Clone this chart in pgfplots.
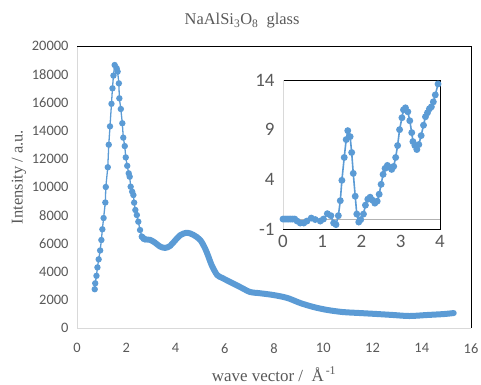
\documentclass[border=0pt]{standalone}
\usepackage{pgfplots}
\pgfplotsset{compat=1.18}
\usepackage{fontspec}
\setmainfont{Liberation Serif}
\newfontfamily\tickfont{Carlito}
\definecolor{serblue}{HTML}{5B9BD5}
\definecolor{txtgray}{HTML}{595959}
\definecolor{axgray}{HTML}{D9D9D9}
\begin{document}
\begin{tikzpicture}
\useasboundingbox (0,0) rectangle (481bp,385bp);
\begin{axis}[
  at={(77bp,57bp)}, anchor=south west, scale only axis,
  width=394bp, height=282bp,
  xmin=0, xmax=16, ymin=0, ymax=20000,
  xtick={0,2,...,16}, ytick={0,2000,...,20000},
  scaled y ticks=false,
  /pgf/number format/assume math mode=true,
  /pgf/number format/1000 sep={},
  tick label style={font=\tickfont\fontsize{14.5}{16}\selectfont, text=txtgray},
  xticklabel style={yshift=-12bp},
  yticklabel style={xshift=-5bp},
  major tick length=0pt,
  axis line style={draw=none},
  clip=false,
  title={\fontsize{16.5}{18}\selectfont NaAlSi\textsubscript{3}O\textsubscript{8}\ \ glass},
  title style={at={(axis description cs:0.419,1.068)}, anchor=center, text=txtgray},
  xlabel={\fontsize{17}{18}\selectfont wave vector /\ \ Å\textsuperscript{\,-1}},
  xlabel style={at={(axis description cs:0.5,-0.164)}, anchor=center, text=txtgray},
  ylabel={\fontsize{16.5}{18}\selectfont Intensity / a.u.},
  ylabel style={at={(axis description cs:-0.147,0.535)}, anchor=center, text=txtgray},
]
\draw[axgray, line width=1bp] (rel axis cs:0,1) -- (rel axis cs:0,0) -- (rel axis cs:1,0);
\draw[black, line width=0.8bp] (rel axis cs:0,1) -- (rel axis cs:1,1) -- (rel axis cs:1,0);
\addplot[serblue, line width=1.3bp, mark=*, mark size=2.5bp, mark options={fill=serblue, draw=serblue}] coordinates {
(0.72,2750) (0.74,3170) (0.79,3700) (0.83,4300) (0.88,4870) (0.94,5500)
(0.99,6240) (1.03,7000) (1.08,7800) (1.15,8900) (1.17,10000) (1.25,11400)
(1.29,13000) (1.34,14300) (1.40,15900) (1.44,17000) (1.48,17900) (1.53,18650)
(1.61,18420) (1.65,18180) (1.70,17350) (1.72,16290) (1.78,15530) (1.84,14520)
(1.88,13500) (1.94,12900) (1.98,12100) (2.04,11500) (2.10,10970) (2.14,10730)
(2.18,10020) (2.24,9670) (2.29,9430) (2.32,8890) (2.37,8370) (2.43,8010)
(2.49,7540) (2.56,6950) (2.63,6480) (2.70,6330) (2.76,6290)
};
\addplot[serblue, line width=6bp, line cap=round, line join=round, smooth] coordinates {
(2.64,6480) (2.76,6290) (2.97,6250) (3.17,6050) (3.37,5780) (3.58,5680)
(3.78,5820) (3.98,6200) (4.19,6580) (4.46,6760) (4.73,6600) (5.00,6250)
(5.20,5650) (5.34,5050) (5.47,4450) (5.69,3760) (5.90,3550) (6.22,3260)
(6.63,2900) (7.03,2550) (7.36,2480) (7.97,2340) (8.54,2130) (9.07,1770)
(9.60,1490) (10.16,1280) (10.80,1130) (11.50,1060) (12.20,990) (12.85,920)
(13.50,850) (14.20,920) (14.90,990) (15.30,1060)
};
\end{axis}
\begin{axis}[
  at={(283bp,156bp)}, anchor=south west, scale only axis,
  width=157bp, height=149bp,
  xmin=0, xmax=4, ymin=-1, ymax=14,
  xtick={0,1,2,3,4}, ytick={-1,4,9,14}, yticklabels={-1,4,9,14},
  /pgf/number format/assume math mode=true,
  tick label style={font=\tickfont\fontsize{19}{21}\selectfont, text=txtgray},
  xticklabel style={yshift=-3bp},
  yticklabel style={xshift=-5bp},
  major tick length=0pt,
  axis line style={draw=none},
  axis background/.style={fill=white},
  clip=false,
]
\draw[black, line width=0.9bp] (rel axis cs:0,0) -- (rel axis cs:1,0) -- (rel axis cs:1,1) -- (rel axis cs:0,1);
\draw[axgray, line width=1bp] (rel axis cs:0,0) -- (rel axis cs:0,1);
\draw[gray!60, line width=0.9bp] (axis cs:0,0) -- (axis cs:4,0);
\addplot[serblue, line width=1.6bp, mark=*, mark size=2.6bp, mark options={fill=serblue, draw=serblue}] coordinates {
(0.00,0.0) (0.05,0.0) (0.10,0.0) (0.15,0.0) (0.20,0.0) (0.25,0.0) (0.30,0.0)
(0.36,-0.2) (0.44,-0.4) (0.53,-0.4) (0.61,-0.2) (0.72,0.1) (0.82,-0.05)
(0.95,-0.2) (1.03,0.0) (1.13,0.54) (1.22,0.34) (1.29,-0.4) (1.35,-0.56)
(1.41,0.34) (1.46,1.85) (1.50,3.9) (1.56,6.2) (1.61,8.0) (1.65,8.9)
(1.71,8.3) (1.75,6.7) (1.79,4.6) (1.84,2.3) (1.88,0.5) (1.93,-0.3)
(1.98,-0.06) (2.05,0.5) (2.10,1.4) (2.16,2.0) (2.22,2.2) (2.28,1.9)
(2.34,1.6) (2.40,1.8) (2.45,2.5) (2.50,3.5) (2.55,4.5) (2.60,5.1)
(2.66,5.4) (2.72,5.2) (2.77,5.0) (2.82,5.3) (2.87,6.2) (2.92,7.4)
(2.97,9.0) (3.03,10.2) (3.07,11.0) (3.12,11.2) (3.18,10.8) (3.23,9.9)
(3.28,8.7) (3.31,7.8) (3.36,7.4) (3.41,7.0) (3.46,7.5) (3.52,8.4)
(3.58,9.45) (3.63,10.3) (3.68,10.7) (3.73,11.1) (3.78,11.3) (3.83,11.8)
(3.88,12.5) (3.95,13.6)
};
\end{axis}
\end{tikzpicture}
\end{document}
